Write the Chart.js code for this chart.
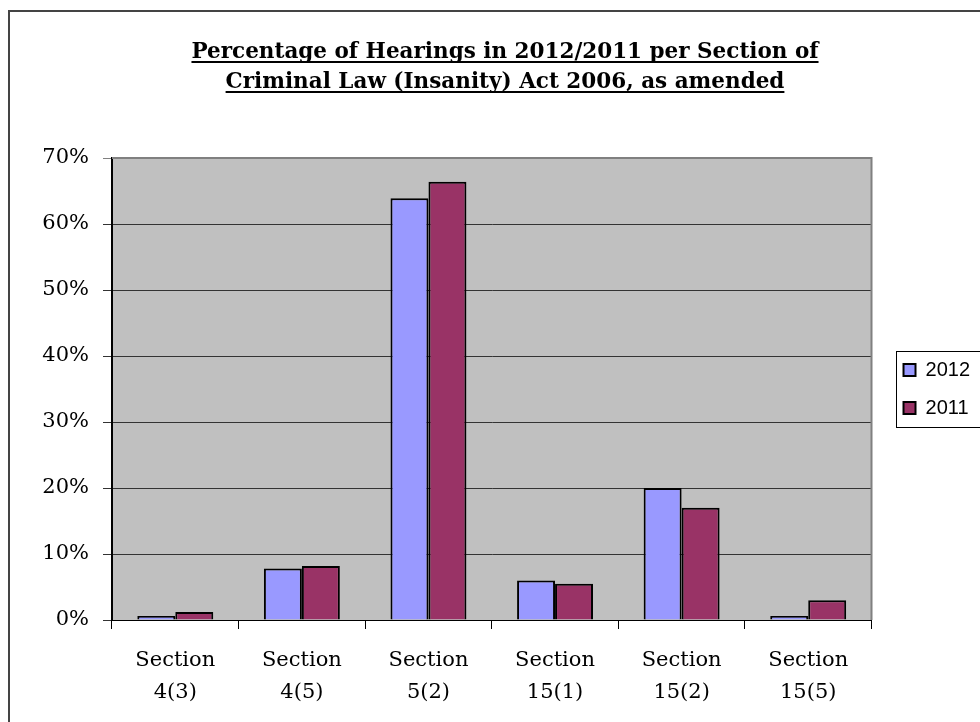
<!DOCTYPE html>
<html>
<head>
<meta charset="utf-8">
<script src="https://cdn.jsdelivr.net/npm/chart.js@4/dist/chart.umd.min.js"></script>
<style>
html,body{margin:0;padding:0;overflow:hidden;background:#fff;width:980px;height:722px;}
#wrap{position:absolute;left:0;top:0;width:1010px;height:722px;}
</style>
</head>
<body>
<div id="wrap"><canvas id="c" width="1010" height="722"></canvas></div>
<script>
const categories = [["Section","4(3)"],["Section","4(5)"],["Section","5(2)"],["Section","15(1)"],["Section","15(2)"],["Section","15(5)"]];
const values2012 = [0.6, 7.8, 63.9, 6.0, 20.0, 0.6];
const values2011 = [1.2, 8.2, 66.4, 5.5, 17.0, 3.0];
const seriesNames = ["2012", "2011"];
const titleLines = ["Percentage of Hearings in 2012/2011 per Section of", "Criminal Law (Insanity) Act 2006, as amended"];
const yTicks = [0, 10, 20, 30, 40, 50, 60, 70];

const serif = "'DejaVu Serif', serif";
const TITLE_SIZE = 21.5, TITLE_LH = 30;
const LEG_PAD = 18;

const framePlugin = {
  id: 'frame',
  afterLayout(chart) {
    const tb = chart.titleBlock;
    if (tb) { tb.left = 0; tb.right = 1010; tb.width = 1010; }
    const lg = chart.legend;
    const a = chart.chartArea;
    if (lg) {
      const dx = (a.right + 14) - lg.left;
      lg.left += dx; lg.right += dx;
      lg.top = a.top; lg.bottom = a.bottom; lg.height = a.bottom - a.top;
    }
  },
  beforeDraw(chart) {
    const {ctx, chartArea: a} = chart;
    ctx.save();
    ctx.fillStyle = '#C0C0C0';
    ctx.fillRect(a.left, a.top, a.right - a.left, a.bottom - a.top);
    ctx.restore();
  },
  afterDatasetsDraw(chart) {
    const {ctx, chartArea: a} = chart;
    ctx.save();
    ctx.strokeStyle = '#808080';
    ctx.lineWidth = 2;
    ctx.beginPath();
    ctx.moveTo(a.left, a.top);
    ctx.lineTo(a.right, a.top);
    ctx.lineTo(a.right, a.bottom);
    ctx.stroke();
    ctx.restore();
  },
  afterDraw(chart) {
    const ctx = chart.ctx;
    ctx.save();
    // outer chart frame
    ctx.strokeStyle = '#444';
    ctx.lineWidth = 2;
    ctx.strokeRect(9, 11, 1200, 900);
    // title underline
    const tb = chart.titleBlock;
    ctx.font = 'bold ' + TITLE_SIZE + 'px ' + serif;
    ctx.strokeStyle = '#000';
    ctx.lineWidth = 2;
    const cx = (tb.left + tb.right) / 2;
    const top = tb.top + tb.options.padding.top;
    titleLines.forEach((t, i) => {
      const w = ctx.measureText(t).width;
      const y = top + TITLE_LH * i + TITLE_LH / 2 + 10;
      ctx.beginPath();
      ctx.moveTo(cx - w / 2, y);
      ctx.lineTo(cx + w / 2, y);
      ctx.stroke();
    });
    // legend box
    const lg = chart.legend;
    if (lg) {
      const mid = (lg.top + lg.bottom) / 2;
      const x0 = lg.left + LEG_PAD - 8;
      ctx.strokeStyle = '#000';
      ctx.lineWidth = 1;
      ctx.strokeRect(Math.round(x0) + 0.5, Math.round(mid - 38) + 0.5, 300, 76);
    }
    ctx.restore();
  }
};

new Chart(document.getElementById('c'), {
  type: 'bar',
  data: {
    labels: categories,
    datasets: [
      {label: seriesNames[0], data: values2012, backgroundColor: '#9999FF', borderColor: '#000', borderWidth: 2, categoryPercentage: 0.6, barPercentage: 1.0},
      {label: seriesNames[1], data: values2011, backgroundColor: '#993366', borderColor: '#000', borderWidth: 2, categoryPercentage: 0.6, barPercentage: 1.0}
    ]
  },
  options: {
    responsive: false,
    animation: false,
    devicePixelRatio: 1,
    layout: {padding: {left: 0, top: 0, right: 44, bottom: 0}},
    plugins: {
      tooltip: {enabled: false},
      title: {
        display: true,
        text: titleLines,
        color: '#000',
        font: {family: serif, size: TITLE_SIZE, weight: 'bold', lineHeight: TITLE_LH / TITLE_SIZE},
        padding: {top: 37, bottom: 61}
      },
      legend: {
        position: 'right',
        labels: {
          color: '#000',
          font: {family: "'Liberation Sans', Arial, sans-serif", size: 20},
          boxWidth: 12,
          boxHeight: 12,
          padding: LEG_PAD,
          generateLabels(chart) {
            return chart.data.datasets.map((d, i) => ({
              text: d.label, fillStyle: d.backgroundColor, strokeStyle: '#000', lineWidth: 2, datasetIndex: i, hidden: false
            }));
          }
        }
      }
    },
    scales: {
      x: {
        offset: true,
        grid: {offset: true, drawOnChartArea: false, drawTicks: true, tickLength: 9, color: '#000'},
        border: {color: '#000', width: 1},
        ticks: {color: '#000', font: {family: serif, size: 21, lineHeight: 1.5}, padding: 16, maxRotation: 0, autoSkip: false},
        afterFit(s) { s.height = 102; }
      },
      y: {
        min: 0, max: 70,
        afterBuildTicks(s) { s.ticks = yTicks.map(v => ({value: v})); },
        grid: {color: ctx => (ctx.tick && ctx.tick.value === 70) ? '#808080' : '#333', lineWidth: 1, tickLength: 9, drawTicks: true},
        border: {color: '#000', width: 2},
        ticks: {color: '#000', font: {family: serif, size: 21}, padding: 14, callback: v => v + '%'},
        afterFit(s) { s.width = 112; }
      }
    }
  },
  plugins: [framePlugin]
});
</script>
</body>
</html>
